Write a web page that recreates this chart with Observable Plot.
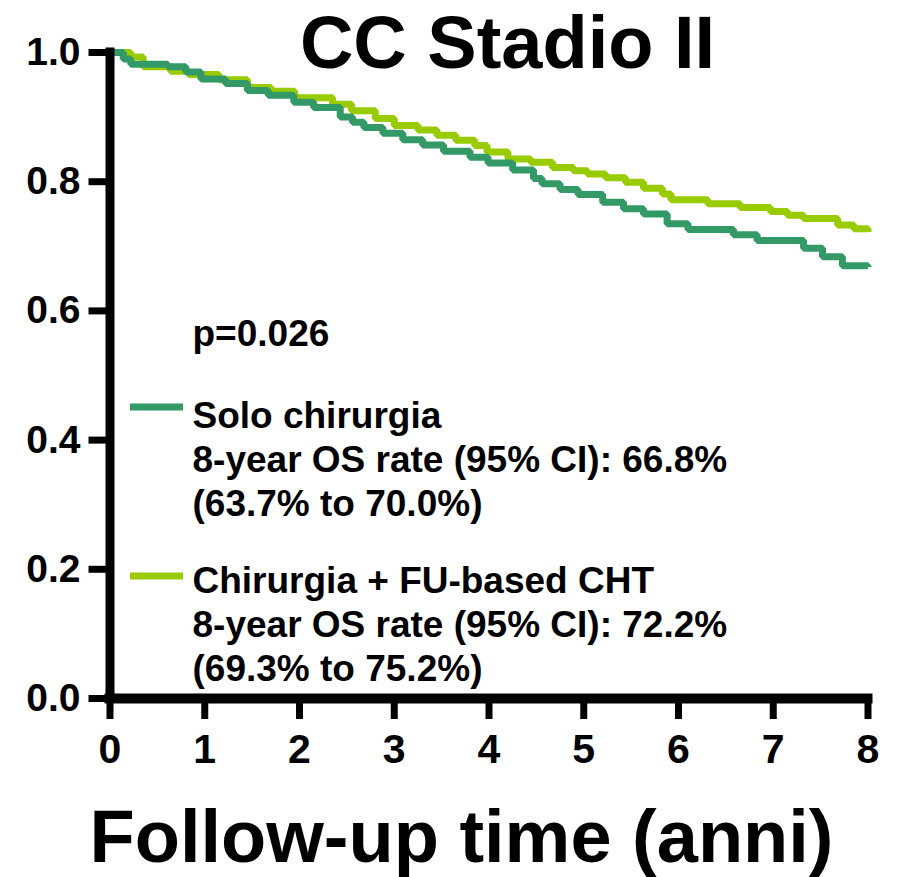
<!DOCTYPE html>
<html>
<head>
<meta charset="utf-8">
<script src="https://cdn.jsdelivr.net/npm/d3@7"></script>
<script src="https://cdn.jsdelivr.net/npm/@observablehq/plot@0.6"></script>
<style>
  html, body { margin: 0; padding: 0; background: #fff; }
</style>
</head>
<body>
<div id="chart"></div>
<script>
// ---- data ----
const title = "CC Stadio II";
const xLabel = "Follow-up time (anni)";
const xTicks = [0, 1, 2, 3, 4, 5, 6, 7, 8];
const yTicks = [0, 0.2, 0.4, 0.6, 0.8, 1.0];
const seriesNames = ["Solo chirurgia", "Chirurgia + FU-based CHT"];
const seriesColors = ["#339966", "#99cc00"];
const pValue = "p=0.026";
const legendDetails = [
  "8-year OS rate (95% CI): 66.8%\n(63.7% to 70.0%)",
  "8-year OS rate (95% CI): 72.2%\n(69.3% to 75.2%)"
];

const soloTime = [0, 0.14, 0.22, 0.61, 0.80, 0.96, 1.22, 1.45, 1.67, 1.94, 2.15, 2.43, 2.56, 2.68, 2.88, 3.09, 3.30, 3.52, 3.80, 3.99, 4.25, 4.47, 4.56, 4.75, 4.94, 5.20, 5.42, 5.63, 5.88, 6.10, 6.58, 6.83, 7.32, 7.52, 7.73, 8.0];
const soloSurv = [1.0, 0.990, 0.982, 0.978, 0.970, 0.959, 0.952, 0.941, 0.934, 0.923, 0.915, 0.900, 0.892, 0.884, 0.875, 0.865, 0.857, 0.847, 0.838, 0.829, 0.818, 0.805, 0.797, 0.788, 0.780, 0.768, 0.758, 0.750, 0.735, 0.726, 0.718, 0.709, 0.697, 0.684, 0.670, 0.668];

const chtTime = [0, 0.22, 0.35, 0.64, 0.83, 1.15, 1.45, 1.70, 1.95, 2.35, 2.55, 2.80, 3.00, 3.25, 3.45, 3.65, 3.85, 3.98, 4.20, 4.44, 4.67, 4.89, 5.04, 5.23, 5.44, 5.63, 5.83, 5.92, 6.31, 6.65, 6.97, 7.15, 7.32, 7.68, 7.85, 8.0];
const chtSurv = [1.0, 0.993, 0.978, 0.971, 0.966, 0.958, 0.946, 0.940, 0.930, 0.920, 0.910, 0.898, 0.887, 0.880, 0.872, 0.864, 0.856, 0.846, 0.835, 0.830, 0.822, 0.817, 0.812, 0.806, 0.799, 0.790, 0.781, 0.772, 0.766, 0.760, 0.754, 0.748, 0.743, 0.733, 0.727, 0.722];

// ---- build table ----
const solo = soloTime.map((t, i) => ({t, s: soloSurv[i], g: seriesNames[0]}));
const cht = chtTime.map((t, i) => ({t, s: chtSurv[i], g: seriesNames[1]}));

const FONT = "Arial, 'Liberation Sans', Helvetica, sans-serif";

// legend swatches drawn in frame-relative pixels
function swatches(index, scales, values, dim) {
  const g = d3.create("svg:g");
  const x0 = dim.marginLeft + 20.5, x1 = dim.marginLeft + 73.5;
  const ys = [dim.marginTop + 355, dim.marginTop + 524];
  ys.forEach((y, i) => {
    g.append("line")
      .attr("x1", x0).attr("x2", x1).attr("y1", y).attr("y2", y)
      .attr("stroke", seriesColors[i]).attr("stroke-width", 7);
  });
  return g.node();
}

const chart = Plot.plot({
  width: 899,
  height: 877,
  marginLeft: 109.5,
  marginRight: 31.5,
  marginTop: 52,
  marginBottom: 179,
  x: {domain: [xTicks[0], xTicks[xTicks.length - 1]]},
  y: {domain: [yTicks[0], yTicks[yTicks.length - 1]]},
  style: {fontFamily: FONT, fontWeight: "bold", color: "#000", background: "#fff", overflow: "visible"},
  marks: [
    Plot.line(cht, {x: "t", y: "s", curve: "step-after", stroke: seriesColors[1], strokeWidth: 7, strokeLinecap: "butt", strokeLinejoin: "miter"}),
    Plot.line(solo, {x: "t", y: "s", curve: "step-after", stroke: seriesColors[0], strokeWidth: 7, strokeLinecap: "butt", strokeLinejoin: "miter"}),
    Plot.axisY(yTicks, {tickSize: 21, tickPadding: 8.5, fontSize: 39, strokeWidth: 7, tickFormat: d => d.toFixed(1), label: null}),
    Plot.axisX(xTicks, {tickSize: 21, tickPadding: 14, fontSize: 41, strokeWidth: 7, tickFormat: d => String(d), label: null}),
    Plot.ruleX([xTicks[0]], {y1: yTicks[0], y2: yTicks[yTicks.length - 1], strokeWidth: 9, strokeLinecap: "square"}),
    Plot.ruleY([yTicks[0]], {x1: xTicks[0], x2: xTicks[xTicks.length - 1], strokeWidth: 10, strokeLinecap: "square"}),
    Plot.text([title], {text: d => d, frameAnchor: "top-left", dx: 397.5, dy: -37.5, textAnchor: "middle", lineAnchor: "top", fontSize: 74}),
    Plot.text([xLabel], {text: d => d, frameAnchor: "bottom-left", dx: 351.5, dy: 110.5, textAnchor: "middle", lineAnchor: "top", fontSize: 74}),
    Plot.text([pValue], {text: d => d, frameAnchor: "top-left", dx: 82.5, dy: 267, textAnchor: "start", lineAnchor: "top", fontSize: 37}),
    Plot.text([seriesNames[0] + "\n" + legendDetails[0]], {text: d => d, frameAnchor: "top-left", dx: 82.5, dy: 344, textAnchor: "start", lineAnchor: "top", fontSize: 37, lineHeight: 1.19}),
    Plot.text([seriesNames[1] + "\n" + legendDetails[1]], {text: d => d, frameAnchor: "top-left", dx: 82.5, dy: 509, textAnchor: "start", lineAnchor: "top", fontSize: 37, lineHeight: 1.19}),
    swatches
  ]
});
document.getElementById("chart").appendChild(chart);
</script>
</body>
</html>
